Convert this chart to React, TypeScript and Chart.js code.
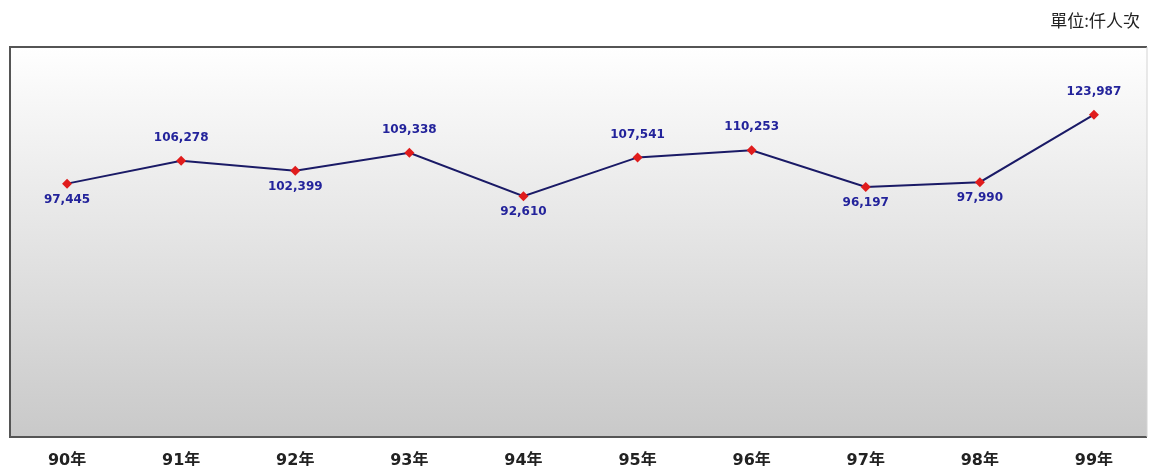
import React, { useEffect, useRef } from "react";
import { Chart, registerables } from "chart.js";

Chart.register(...registerables);

const categories = ["90年", "91年", "92年", "93年", "94年", "95年", "96年", "97年", "98年", "99年"];
const visitors = [97445, 106278, 102399, 109338, 92610, 107541, 110253, 96197, 97990, 123987];
const labelSide = ["below", "above", "below", "above", "below", "above", "above", "below", "below", "above"];
const unitText = "單位:仟人次";

const boxPlugin = {
  id: "boxBg",
  beforeDraw(chart: any) {
    const { ctx, chartArea } = chart;
    const { left, top, bottom } = chartArea;
    const right = 1147;
    const g = ctx.createLinearGradient(0, top, 0, bottom);
    g.addColorStop(0, "#ffffff");
    g.addColorStop(0.12, "#f8f8f8");
    g.addColorStop(1, "#c9c9c9");
    ctx.save();
    ctx.fillStyle = g;
    ctx.fillRect(left, top, right - left, bottom - top);
    ctx.lineWidth = 2;
    ctx.strokeStyle = "#555555";
    ctx.beginPath();
    ctx.moveTo(right, top);
    ctx.lineTo(left, top);
    ctx.lineTo(left, bottom);
    ctx.lineTo(right, bottom);
    ctx.stroke();
    ctx.lineWidth = 1;
    ctx.strokeStyle = "#d4d4d4";
    ctx.beginPath();
    ctx.moveTo(right, top);
    ctx.lineTo(right, bottom);
    ctx.stroke();
    ctx.restore();
  },
};

const labelPlugin = {
  id: "valueLabels",
  afterDatasetsDraw(chart: any) {
    const { ctx } = chart;
    const meta = chart.getDatasetMeta(0);
    ctx.save();
    ctx.font = "bold 12px 'DejaVu Sans'";
    ctx.fillStyle = "#23239b";
    ctx.textAlign = "center";
    ctx.textBaseline = "middle";
    meta.data.forEach((pt: any, i: number) => {
      const v = visitors[i];
      const txt = v.toLocaleString("en-US");
      const dy = labelSide[i] === "above" ? -23 : 16;
      ctx.fillText(txt, pt.x, pt.y + dy);
    });
    ctx.restore();
  },
};

export default function App() {
  const ref = useRef<HTMLCanvasElement | null>(null);
  useEffect(() => {
    if (!ref.current) return;
    const chart = new Chart(ref.current, {
      type: "line",
      data: {
        labels: categories,
        datasets: [
          {
            data: visitors,
            borderColor: "#1a1a66",
            borderWidth: 2,
            pointStyle: "rectRot",
            pointRadius: 5,
            pointBackgroundColor: "#e01c1c",
            pointBorderColor: "#e01c1c",
            pointBorderWidth: 0,
            tension: 0,
          },
        ],
      },
      options: {
        animation: false,
        responsive: false,
        layout: { padding: { left: 10, right: 3, top: 47, bottom: 0 } },
        plugins: { legend: { display: false }, tooltip: { enabled: false }, title: { display: false } },
        scales: {
          x: {
            offset: true,
            grid: { display: false, drawTicks: false },
            border: { display: false },
            ticks: {
              padding: 14,
              color: "#222222",
              font: { family: "'DejaVu Sans', 'Noto Sans CJK TC'", size: 16, weight: "bold" },
            },
            afterFit(scale: any) {
              scale.height = 29;
            },
          },
          y: {
            display: false,
            min: 0,
            max: 150000,
          },
        },
      },
      plugins: [boxPlugin, labelPlugin],
    });
    return () => chart.destroy();
  }, []);
  return (
    <div style={{ position: "fixed", left: 0, top: 0, width: 1150, height: 466, background: "#fff", overflow: "hidden" }}>
      <canvas ref={ref} width={1156} height={466} style={{ display: "block" }} />
      <div
        style={{
          position: "absolute",
          right: 10,
          top: 9,
          fontFamily: "'Noto Sans CJK TC'",
          fontSize: 17,
          lineHeight: "22px",
          color: "#222",
        }}
      >
        {unitText}
      </div>
    </div>
  );
}
